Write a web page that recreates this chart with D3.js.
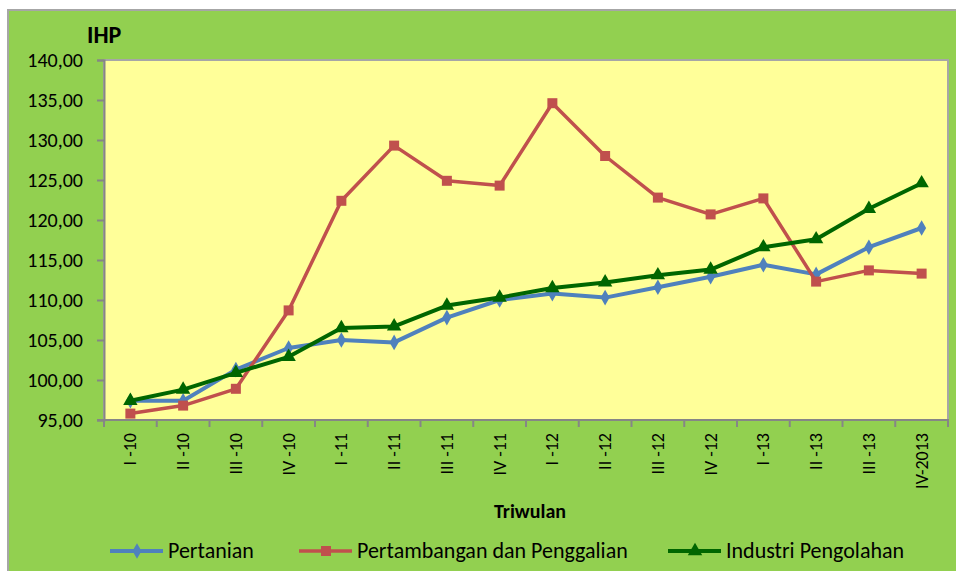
<!DOCTYPE html>
<html>
<head>
<meta charset="utf-8">
<script src="https://cdn.jsdelivr.net/npm/d3@7"></script>
<style>
  html, body { margin: 0; padding: 0; background: #ffffff; }
  svg { display: block; font-family: Carlito, Calibri, Lato, sans-serif; }
</style>
</head>
<body>
<div id="chart"></div>
<script>
// Quarter labels
const categories = ["I -10", "II -10", "III -10", "IV -10", "I -11", "II -11", "III -11", "IV -11",
  "I -12", "II -12", "III -12", "IV -12", "I -13", "II -13", "III -13", "IV-2013"];

// IHP values
const pertanian = [97.4, 97.4, 101.3, 104.0, 105.0, 104.7, 107.8, 110.0,
  110.8, 110.3, 111.6, 112.9, 114.4, 113.2, 116.6, 119.0];
const pertambangan = [95.8, 96.8, 98.9, 108.7, 122.4, 129.3, 124.9, 124.3,
  134.6, 128.0, 122.8, 120.7, 122.7, 112.3, 113.7, 113.3];
const industri = [97.4, 98.8, 100.9, 102.9, 106.5, 106.7, 109.3, 110.3,
  111.5, 112.2, 113.1, 113.8, 116.6, 117.6, 121.4, 124.6];

const yTicks = [95, 100, 105, 110, 115, 120, 125, 130, 135, 140];

const series = [
  { name: "Pertanian", values: pertanian, color: "#4F81BD", symbol: d3.symbolDiamond, size: 70, width: 4 },
  { name: "Pertambangan dan Penggalian", values: pertambangan, color: "#C0504D", symbol: d3.symbolSquare, size: 100, width: 3.5 },
  { name: "Industri Pengolahan", values: industri, color: "#006600", symbol: d3.symbolTriangle, size: 90, width: 4 }
];

const width = 956, height = 571;
const plot = { left: 104, top: 60, right: 948, bottom: 420 };
const font = "Carlito, Calibri, Lato, sans-serif";

const svg = d3.select("#chart").append("svg")
    .attr("width", width)
    .attr("height", height);

// Chart background
svg.append("rect")
    .attr("x", 8).attr("y", 10)
    .attr("width", width).attr("height", height)
    .attr("fill", "#92D050")
    .attr("stroke", "#A6A6A6")
    .attr("stroke-width", 2);

// Plot area
svg.append("rect")
    .attr("x", plot.left).attr("y", plot.top)
    .attr("width", plot.right - plot.left).attr("height", plot.bottom - plot.top)
    .attr("fill", "#FFFF99")
    .attr("stroke", "#A6A6A6")
    .attr("stroke-width", 2);

const x = d3.scaleBand()
    .domain(categories)
    .range([plot.left, plot.right])
    .padding(0);

const y = d3.scaleLinear()
    .domain([95, 140])
    .range([plot.bottom, plot.top]);

const fmt = d => d3.format(".2f")(d).replace(".", ",");

// Y axis
const yAxis = svg.append("g")
    .attr("transform", `translate(${plot.left},0)`)
    .call(d3.axisLeft(y).tickValues(yTicks).tickFormat(fmt).tickSize(7).tickPadding(14));
yAxis.select(".domain").attr("stroke", "#868686").attr("stroke-width", 2);
yAxis.selectAll(".tick line").attr("stroke", "#868686").attr("stroke-width", 2);
yAxis.selectAll(".tick text")
    .attr("fill", "#000")
    .attr("font-size", 20)
    .attr("font-family", font);

// X axis: tick marks at category boundaries
const bounds = d3.range(categories.length + 1).map(i => plot.left + i * x.step());
svg.append("g")
    .selectAll("line")
    .data(bounds)
    .join("line")
    .attr("x1", d => d).attr("x2", d => d)
    .attr("y1", plot.bottom).attr("y2", plot.bottom + 7)
    .attr("stroke", "#868686")
    .attr("stroke-width", 2);

svg.append("line")
    .attr("x1", plot.left - 7).attr("x2", plot.right + 1)
    .attr("y1", plot.bottom).attr("y2", plot.bottom)
    .attr("stroke", "#868686")
    .attr("stroke-width", 2);

const xAxis = svg.append("g")
    .attr("transform", `translate(0,${plot.bottom})`)
    .call(d3.axisBottom(x).tickSize(0).tickPadding(0));
xAxis.select(".domain").remove();
xAxis.selectAll(".tick text")
    .attr("fill", "#000")
    .attr("font-size", 18)
    .attr("font-family", font)
    .attr("text-anchor", "end")
    .attr("dy", null)
    .attr("y", 0)
    .attr("transform", "translate(6,13) rotate(-90)");

// Lines and markers
const line = d3.line()
    .x((d, i) => x(categories[i]) + x.bandwidth() / 2)
    .y(d => y(d));

series.forEach(s => {
  svg.append("path")
      .datum(s.values)
      .attr("fill", "none")
      .attr("stroke", s.color)
      .attr("stroke-width", s.width)
      .attr("stroke-linejoin", "round")
      .attr("d", line);

  svg.append("g")
    .selectAll("path")
    .data(s.values)
    .join("path")
      .attr("transform", (d, i) => `translate(${x(categories[i]) + x.bandwidth() / 2},${y(d)})`)
      .attr("d", d3.symbol().type(s.symbol).size(s.size))
      .attr("fill", s.color);
});

// Titles
svg.append("text")
    .attr("x", 87).attr("y", 43)
    .attr("font-size", 24)
    .attr("font-weight", "bold")
    .text("IHP");

svg.append("text")
    .attr("x", 530).attr("y", 518)
    .attr("text-anchor", "middle")
    .attr("font-size", 20)
    .attr("font-weight", "bold")
    .text("Triwulan");

// Legend
const legendX = [110, 299, 668];
const legend = svg.append("g")
  .selectAll("g")
  .data(series)
  .join("g")
    .attr("transform", (d, i) => `translate(${legendX[i]},551)`);

legend.append("line")
    .attr("x1", 0).attr("x2", 53)
    .attr("stroke", d => d.color)
    .attr("stroke-width", d => d.width);

legend.append("path")
    .attr("transform", "translate(27,0)")
    .attr("d", d => d3.symbol().type(d.symbol).size(d.size)())
    .attr("fill", d => d.color);

legend.append("text")
    .attr("x", 58).attr("y", 7)
    .attr("font-size", 22)
    .text(d => d.name);
</script>
</body>
</html>
